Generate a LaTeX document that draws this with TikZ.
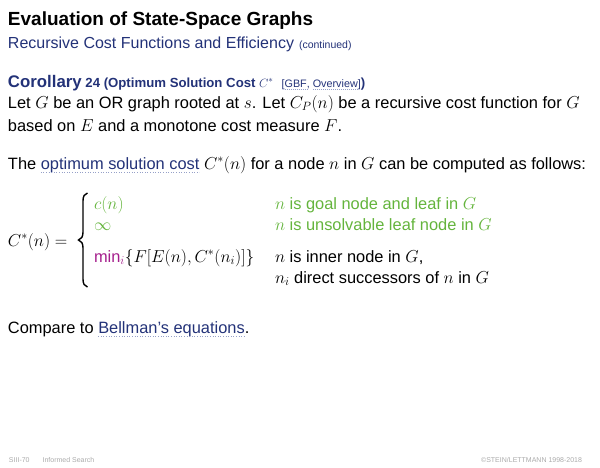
\documentclass[tikz,border=0pt]{standalone}
\usepackage{fontspec}
\setmainfont{Liberation Sans}
\usepackage{amsmath}
\definecolor{dblue}{RGB}{35,50,120}
\definecolor{lgreen}{RGB}{100,180,60}
\definecolor{magen}{RGB}{165,30,140}
\definecolor{foot}{RGB}{170,170,170}
\definecolor{uline}{RGB}{150,160,200}
\tikzset{
  txt/.style={anchor=base west, inner sep=0pt, outer sep=0pt},
  body/.style={txt, font=\fontsize{16.4}{19}\selectfont},
  ul/.style={uline, line width=0.6pt, dotted},
  ulw/.style={uline, line width=0.5pt, dash pattern=on 1pt off 1pt},
}
\begin{document}
\begin{tikzpicture}[x=1pt,y=-1pt]
\useasboundingbox (0,0) rectangle (600,467);
\node[txt, font=\fontsize{19}{22}\selectfont\bfseries] (title) at (8,25) {Evaluation of State-Space Graphs};
\node[txt, font=\fontsize{16}{19}\selectfont, text=dblue] (sub) at (8,48) {Recursive Cost Functions and Efficiency};
\node[txt, font=\fontsize{10.5}{12}\selectfont, text=dblue] (cont) at ([xshift=5pt]sub.base east) {(continued)};
\node[txt, text=dblue, font=\fontsize{13.2}{16}\selectfont\bfseries] (cor) at (8,87) {{\fontsize{16.8}{19}\selectfont Corollary} 24 (Optimum Solution Cost $C^*$};
\node[txt, text=dblue, font=\fontsize{10.8}{12}\selectfont] (gbf) at ([xshift=8pt]cor.base east) {[GBF};
\node[txt, text=dblue, font=\fontsize{10.8}{12}\selectfont] (ov) at (gbf.base east) {, Overview};
\node[txt, text=dblue, font=\fontsize{10.8}{12}\selectfont] (cb) at (ov.base east) {]};
\node[txt, text=dblue, font=\fontsize{13.2}{16}\selectfont\bfseries] (cp) at (cb.base east) {)};
\draw[ulw] ([xshift=3pt,yshift=-2pt]gbf.base west) -- ([yshift=-2pt]gbf.base east);
\draw[ulw] ([xshift=6pt,yshift=-2pt]ov.base west) -- ([yshift=-2pt]ov.base east);
\node[body] (l1) at (8,108) {Let $G$ be an OR graph rooted at $s$. Let $C_P(n)$ be a recursive cost function for $G$};
\node[body] (l2) at (8,131) {based on $E$ and a monotone cost measure $F$.};
\node[body] (l3a) at (8,169) {The};
\node[body, text=dblue] (l3b) at ([xshift=4.6pt]l3a.base east) {optimum solution cost};
\node[body] (l3c) at ([xshift=4.6pt]l3b.base east) {$C^*(n)$ for a node $n$ in $G$ can be computed as follows:};
\draw[ul] ([yshift=-3pt]l3b.base west) -- ([yshift=-3pt]l3b.base east);
\node[body] (lhs) at (8,246) {$C^*(n) = $};
\draw[line width=1.4pt] (87.5,193) .. controls (84.5,194) and (83,196) .. (83,201) -- (83,232) .. controls (83,236.5) and (81.5,239.2) .. (78.5,240) .. controls (81.5,240.8) and (83,243.5) .. (83,248) -- (83,279) .. controls (83,284) and (84.5,286) .. (87.5,287);
\node[body, text=lgreen] (c1) at (94,209) {$c(n)$};
\node[body, text=lgreen] (c2) at (94,230) {$\infty$};
\node[body] (c3) at (94,262) {\textcolor{magen}{min$_i$}$\{F[E(n),C^*(n_i)]\}$};
\node[body, text=lgreen] (d1) at (275,209) {$n$ is goal node and leaf in $G$};
\node[body, text=lgreen] (d2) at (275,230) {$n$ is unsolvable leaf node in $G$};
\node[body] (d3) at (275,262) {$n$ is inner node in $G$,};
\node[body] (d4) at (275,283) {$n_i$ direct successors of $n$ in $G$};
\node[body] (cmpa) at (8,333) {Compare to};
\node[body, text=dblue] (cmpb) at ([xshift=4.6pt]cmpa.base east) {Bellman's equations};
\node[body] (cmpc) at (cmpb.base east) {.};
\draw[ul] ([yshift=-3pt]cmpb.base west) -- ([yshift=-3pt]cmpb.base east);
\node[txt, font=\fontsize{7}{8}\selectfont, text=foot] (f1) at (9,462) {SIII-70\hspace{13pt}Informed Search};
\node[txt, anchor=base east, font=\fontsize{7}{8}\selectfont, text=foot] (f2) at (582,462) {\textcopyright STEIN/LETTMANN 1998-2018};
\end{tikzpicture}
\end{document}
